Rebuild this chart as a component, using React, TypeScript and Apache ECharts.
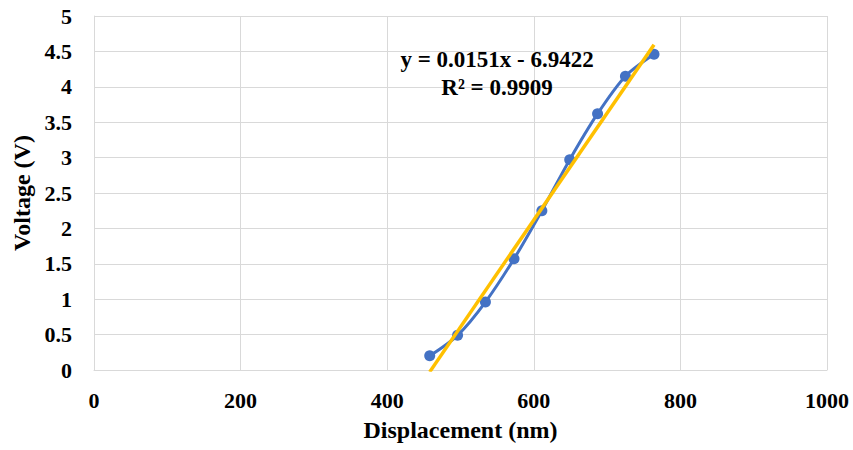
import React, { useEffect, useRef } from "react";
import * as echarts from "echarts";

const displacement = [458, 496, 534, 573, 611, 649, 687, 725, 764];
const voltage = [0.2, 0.49, 0.96, 1.57, 2.25, 2.97, 3.62, 4.15, 4.46];
const trendSlope = 0.0151;
const trendIntercept = -6.9422;
const equationLines = ["y = 0.0151x - 6.9422", "R² = 0.9909"];
const xTitle = "Displacement (nm)";
const yTitle = "Voltage (V)";

const FONT = "'Liberation Serif', 'Times New Roman', serif";

export default function App() {
  const ref = useRef<HTMLDivElement>(null);
  useEffect(() => {
    if (!ref.current) return;
    const chart = echarts.init(ref.current, undefined, { renderer: "svg" });
    const xMin = Math.min(...displacement);
    const xMax = Math.max(...displacement);
    const trend = [
      [xMin, trendSlope * xMin + trendIntercept],
      [xMax, trendSlope * xMax + trendIntercept],
    ];
    const labelStyle = {
      fontFamily: FONT,
      fontWeight: "bold" as const,
      fontSize: 22,
      color: "#000",
    };
    chart.setOption({
      animation: false,
      backgroundColor: "#fff",
      grid: {
        left: 94,
        right: 26,
        top: 16,
        bottom: 80,
        containLabel: false,
        outerBoundsMode: "none",
      },
      xAxis: {
        type: "value",
        min: 0,
        max: 1000,
        interval: 200,
        name: xTitle,
        nameLocation: "middle",
        nameGap: 48,
        nameTextStyle: { ...labelStyle, fontSize: 24 },
        axisLine: { show: true, lineStyle: { color: "#D9D9D9", width: 1 } },
        axisTick: { show: false },
        axisLabel: { ...labelStyle, margin: 19, formatter: (v: number) => String(v) },
        splitLine: { show: true, lineStyle: { color: "#D9D9D9", width: 1 } },
      },
      yAxis: {
        type: "value",
        min: 0,
        max: 5,
        interval: 0.5,
        name: yTitle,
        nameLocation: "middle",
        nameGap: 60,
        nameRotate: 90,
        nameTextStyle: { ...labelStyle, fontSize: 24 },
        axisLine: { show: true, lineStyle: { color: "#D9D9D9", width: 1 } },
        axisTick: { show: false },
        axisLabel: { ...labelStyle, margin: 22 },
        splitLine: { show: true, lineStyle: { color: "#D9D9D9", width: 1 } },
      },
      series: [
        {
          type: "line",
          data: displacement.map((x, i) => [x, voltage[i]]),
          smooth: 0.3,
          symbol: "circle",
          symbolSize: 11,
          itemStyle: { color: "#4472C4" },
          lineStyle: { color: "#4472C4", width: 3 },
          z: 2,
        },
        {
          type: "line",
          data: trend,
          symbol: "none",
          lineStyle: { color: "#FFC000", width: 3.5 },
          z: 3,
        },
      ],
      graphic: equationLines.map((t, i) => ({
        type: "text",
        x: 497,
        y: 59 + i * 28,
        style: {
          text: t,
          font: `bold 23px ${FONT}`,
          fill: "#000",
          textAlign: "center",
          textVerticalAlign: "middle",
        },
        z: 10,
      })),
    });
    return () => chart.dispose();
  }, []);
  return (
    <div
      ref={ref}
      style={{ position: "fixed", left: 0, top: 0, width: 853, height: 450 }}
    />
  );
}
